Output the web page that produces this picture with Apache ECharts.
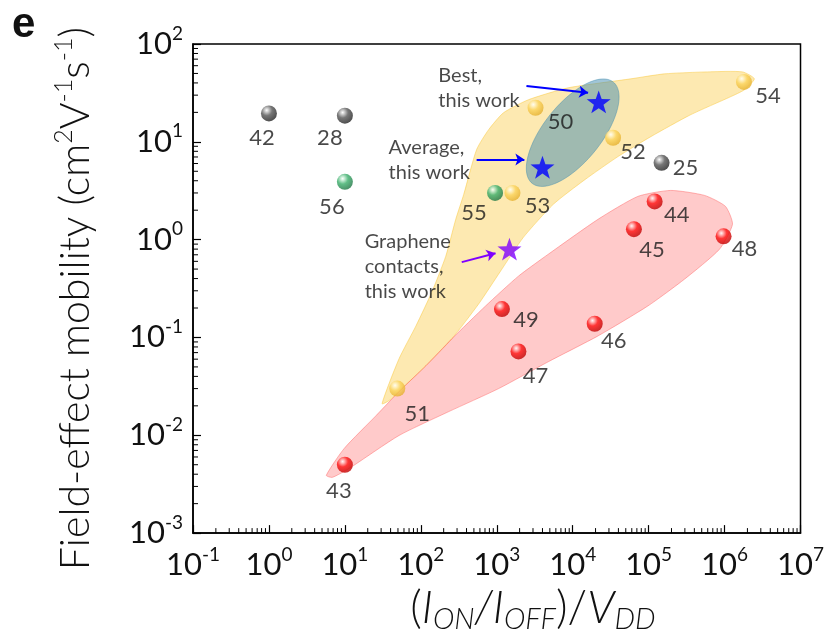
<!DOCTYPE html>
<html>
<head>
<meta charset="utf-8">
<script src="https://cdn.jsdelivr.net/npm/echarts@6/dist/echarts.min.js"></script>
<style>
  html, body { margin: 0; padding: 0; background: #fff; }
  #chart { width: 827px; height: 639px; }
</style>
</head>
<body>
<div id="chart"></div>
<script>
// Reported devices: [(I_ON/I_OFF)/V_DD, field-effect mobility (cm^2 V^-1 s^-1), reference]
const grayRefs   = [[1, 19.5, '42'], [10, 18.5, '28'], [1.48e5, 6.1, '25']];
const greenRefs  = [[10, 3.9, '56'], [950, 3.0, '55']];
const yellowRefs = [[3240, 22.3, '50'], [1.8e6, 41, '54'], [3.4e4, 11, '52'], [1610, 3.0, '53'], [49, 0.030, '51']];
const redRefs    = [[1.2e5, 2.46, '44'], [6.4e4, 1.28, '45'], [9.7e5, 1.08, '48'], [1170, 0.195, '49'],
                    [1.95e4, 0.138, '46'], [1930, 0.072, '47'], [10, 0.005, '43']];

// Devices from this work
const bestDevice     = [[2.2e4, 25.6]];
const averageDevice  = [[4000, 5.5]];
const grapheneDevice = [[1470, 0.80]];

// Annotation texts (anchored at their top-left corner, data units)
const notes = [
  [172.7, 62.5, 'Best,\nthis work'],
  [38.2, 11.6, 'Average,\nthis work'],
  [18.5, 1.28, 'Graphene\ncontacts,\nthis work']
];
// Arrows pointing from the notes to the stars (data units)
const bestArrow     = [[2460, 37.3], [15960, 31.7]];
const averageArrow  = [[543, 6.6], [2310, 6.6]];
const grapheneArrow = [[346, 0.589], [964, 0.726]];

// Shaded regions, outline vertices as [log10 x, log10 y]
const yellowRegion = [
  [1.490, -1.676], [1.713, -1.218], [1.936, -0.882], [2.145, -0.536], [2.329, -0.169],
  [2.460, 0.208], [2.565, 0.462], [2.735, 0.921], [2.893, 1.124], [3.089, 1.297],
  [3.417, 1.430], [3.941, 1.552], [4.767, 1.644], [5.212, 1.695], [5.776, 1.715],
  [6.235, 1.715], [6.392, 1.644], [6.261, 1.532], [6.077, 1.460], [5.553, 1.277],
  [5.029, 1.053], [4.596, 0.849], [4.164, 0.615], [3.744, 0.361], [3.351, 0.024],
  [3.050, -0.322], [2.761, -0.658], [2.408, -1.014], [2.067, -1.289], [1.752, -1.523],
  [1.582, -1.646]
];
const redRegion = [
  [0.756, -2.409], [0.992, -2.134], [1.412, -1.798], [1.752, -1.523], [2.067, -1.289],
  [2.408, -1.014], [2.853, -0.678], [3.286, -0.373], [3.679, -0.149], [4.334, 0.208],
  [4.858, 0.442], [5.291, 0.503], [5.737, 0.452], [6.012, 0.340], [6.104, 0.157],
  [5.933, -0.098], [5.474, -0.403], [4.990, -0.678], [4.334, -0.984], [3.679, -1.248],
  [3.024, -1.523], [2.368, -1.758], [1.713, -2.002], [1.058, -2.338], [0.835, -2.430]
];
// Ellipse around this work's devices: centre and two conjugate semi-diameter ends
const ellipseCenter   = [1.0e4, 12.4];
const ellipseMajorEnd = [3.4e4, 41];
const ellipseMinorEnd = [2.0e4, 8.2];

// Axis ranges (decades)
const xDecades = [-1, 7];
const yDecades = [-3, 2];

// Label placement relative to each sphere (px)
const labelOffset = {
  '42': [-7, 24], '28': [-15, 22], '25': [24, 5], '56': [-13, 25], '55': [-21, 20],
  '50': [25, 14], '54': [24, 14], '52': [20, 14], '53': [25, 13], '51': [20, 25],
  '44': [22, 14], '45': [18, 21], '48': [21, 13], '49': [24, 11], '46': [19, 17],
  '47': [17, 24], '43': [-6, 26]
};

const FONT = 'Lato';
const chart = echarts.init(document.getElementById('chart'));

function sphere(light, base, dark) {
  return new echarts.graphic.RadialGradient(0.36, 0.3, 0.75, [
    { offset: 0, color: '#ffffff' },
    { offset: 0.12, color: light },
    { offset: 0.45, color: base },
    { offset: 1, color: dark }
  ]);
}

function refSeries(points, fill) {
  return {
    type: 'scatter',
    z: 5,
    symbolSize: 16,
    itemStyle: { color: fill },
    data: points.map(p => ({
      value: [p[0], p[1]],
      name: p[2],
      label: { offset: labelOffset[p[2]] }
    })),
    label: {
      show: true,
      position: 'inside',
      formatter: p => p.name,
      fontFamily: FONT,
      fontSize: 22,
      color: '#1a1a1a'
    },
    emphasis: { disabled: true }
  };
}

const STAR = 'path://M0,-10L2.35,-3.24L9.51,-3.09L3.8,1.24L5.88,8.09L0,4.1L-5.88,8.09L-3.8,1.24L-9.51,-3.09L-2.35,-3.24Z';

function starSeries(points, color) {
  return {
    type: 'scatter', z: 6, symbol: STAR, symbolSize: 24, symbolKeepAspect: true,
    itemStyle: { color: color }, data: points, emphasis: { disabled: true }
  };
}

function arrowSeries(coords, color) {
  return {
    type: 'lines', coordinateSystem: 'cartesian2d', z: 6, silent: true,
    symbol: ['none', 'arrow'], symbolSize: 9,
    lineStyle: { color: color, width: 2, opacity: 1 },
    data: [{ coords: coords }]
  };
}

function regionSeries(outline, fill, stroke) {
  return {
    type: 'custom', coordinateSystem: 'cartesian2d', z: 1, silent: true,
    data: [[1, 1]],
    renderItem(params, api) {
      const pts = outline.map(p => api.coord([Math.pow(10, p[0]), Math.pow(10, p[1])]));
      return { type: 'polygon', shape: { points: pts, smooth: 0.2 }, style: { fill: fill, stroke: stroke, lineWidth: 1 } };
    }
  };
}

const ellipseSeries = {
  type: 'custom', coordinateSystem: 'cartesian2d', z: 2, silent: true,
  data: [[1, 1]],
  renderItem(params, api) {
    const c = api.coord(ellipseCenter), a = api.coord(ellipseMajorEnd), b = api.coord(ellipseMinorEnd);
    const pts = [];
    for (let i = 0; i < 90; i++) {
      const t = i / 90 * Math.PI * 2;
      pts.push([
        c[0] + (a[0] - c[0]) * Math.cos(t) + (b[0] - c[0]) * Math.sin(t),
        c[1] + (a[1] - c[1]) * Math.cos(t) + (b[1] - c[1]) * Math.sin(t)
      ]);
    }
    return { type: 'polygon', shape: { points: pts }, style: { fill: 'rgba(65,140,175,0.5)', stroke: 'rgba(65,140,175,0.45)', lineWidth: 1 } };
  }
};

// Minor log ticks (2..9 within each decade), drawn inward like the major ticks
const minorX = [], minorY = [];
for (let k = xDecades[0]; k < xDecades[1]; k++) for (let m = 2; m <= 9; m++) minorX.push(m * Math.pow(10, k));
for (let k = yDecades[0]; k < yDecades[1]; k++) for (let m = 2; m <= 9; m++) minorY.push(m * Math.pow(10, k));
const xMin = Math.pow(10, xDecades[0]), yMin = Math.pow(10, yDecades[0]);

const minorTickSeries = [
  {
    type: 'custom', coordinateSystem: 'cartesian2d', z: 8, silent: true,
    data: minorX.map(v => [v, yMin]),
    renderItem(params, api) {
      const p = api.coord([api.value(0), yMin]);
      return { type: 'line', shape: { x1: p[0], y1: p[1], x2: p[0], y2: p[1] - 5 }, style: { stroke: '#000', lineWidth: 1 } };
    }
  },
  {
    type: 'custom', coordinateSystem: 'cartesian2d', z: 8, silent: true,
    data: minorY.map(v => [xMin, v]),
    renderItem(params, api) {
      const p = api.coord([xMin, api.value(1)]);
      return { type: 'line', shape: { x1: p[0], y1: p[1], x2: p[0] + 5, y2: p[1] }, style: { stroke: '#000', lineWidth: 1 } };
    }
  }
];

const powerLabel = v => '{b|10}{s|' + Math.round(Math.log10(v)) + '}';
const powerRich = {
  b: { fontFamily: FONT, fontSize: 31, color: '#111', lineHeight: 40 },
  s: { fontFamily: FONT, fontSize: 19, color: '#111', lineHeight: 19, verticalAlign: 'top' }
};

chart.setOption({
  animation: false,
  backgroundColor: '#fff',
  grid: { left: 193, right: 24, top: 44, bottom: 104, show: true, borderColor: '#000', borderWidth: 1.5, backgroundColor: 'transparent' },
  xAxis: {
    type: 'log', logBase: 10,
    min: xMin, max: Math.pow(10, xDecades[1]), splitNumber: 8,
    axisLine: { show: true, lineStyle: { color: '#000', width: 1.5 } },
    axisTick: { show: true, inside: true, length: 8, lineStyle: { color: '#000', width: 1.2 } },
    splitLine: { show: false },
    axisLabel: { margin: 12, formatter: powerLabel, rich: powerRich },
    name: '{n|(}{i|I}{sub|ON}{i|/I}{sub|OFF}{n|)/}{i|V}{sub|DD}',
    nameLocation: 'middle', nameGap: 44,
    nameTextStyle: {
      padding: [0, 0, 0, 72],
      rich: {
        n: { fontFamily: FONT, fontSize: 45, fontWeight: 300, color: '#111', lineHeight: 52 },
        i: { fontFamily: FONT, fontSize: 45, fontWeight: 300, fontStyle: 'italic', color: '#111', lineHeight: 52 },
        sub: { fontFamily: FONT, fontSize: 29, fontWeight: 300, fontStyle: 'italic', color: '#111', lineHeight: 29, verticalAlign: 'bottom' }
      }
    }
  },
  yAxis: {
    type: 'log', logBase: 10,
    min: yMin, max: Math.pow(10, yDecades[1]), splitNumber: 5,
    axisLine: { show: true, lineStyle: { color: '#000', width: 1.5 } },
    axisTick: { show: true, inside: true, length: 8, lineStyle: { color: '#000', width: 1.2 } },
    splitLine: { show: false },
    axisLabel: { margin: 10, formatter: powerLabel, rich: powerRich },
    name: '{n|Field-effect mobility (cm}{s|2}{n|V}{s|-1}{n|s}{s|-1}{n|)}',
    nameLocation: 'middle', nameGap: 92, nameRotate: 90,
    nameTextStyle: {
      padding: [0, 20, 0, 0],
      rich: {
        n: { fontFamily: FONT, fontSize: 41, fontWeight: 300, color: '#111', lineHeight: 50 },
        s: { fontFamily: FONT, fontSize: 25, fontWeight: 300, color: '#111', lineHeight: 25, verticalAlign: 'top' }
      }
    }
  },
  graphic: [
    { type: 'text', left: 12, top: 4, style: { text: 'e', fontFamily: 'Liberation Sans', fontWeight: 'bold', fontSize: 42, fill: '#111' } }
  ],
  series: [
    regionSeries(yellowRegion, 'rgba(250,200,60,0.4)', 'rgba(250,200,60,0.5)'),
    regionSeries(redRegion, 'rgba(255,80,80,0.3)', 'rgba(255,90,90,0.45)'),
    ellipseSeries,
    ...minorTickSeries,
    refSeries(grayRefs, sphere('#d0d0d0', '#555555', '#1e1e1e')),
    refSeries(greenRefs, sphere('#c9efd8', '#3aae6a', '#1b7140')),
    refSeries(yellowRefs, sphere('#fff6d2', '#fbd35a', '#e3ad2a')),
    refSeries(redRefs, sphere('#ffc4c4', '#ff1010', '#b80000')),
    starSeries(bestDevice, '#0000ff'),
    starSeries(averageDevice, '#0000ff'),
    starSeries(grapheneDevice, '#7f00ff'),
    arrowSeries(bestArrow, '#0000ff'),
    arrowSeries(averageArrow, '#0000ff'),
    arrowSeries(grapheneArrow, '#7f00ff'),
    {
      type: 'scatter', z: 7, symbolSize: 1, itemStyle: { color: 'transparent' }, silent: true,
      data: notes.map(n => ({ value: [n[0], n[1]], name: n[2] })),
      label: {
        show: true, position: [0, 0], align: 'left', verticalAlign: 'top',
        formatter: p => p.name, fontFamily: FONT, fontSize: 20, lineHeight: 25, color: '#1a1a1a'
      }
    }
  ]
});
</script>
</body>
</html>
